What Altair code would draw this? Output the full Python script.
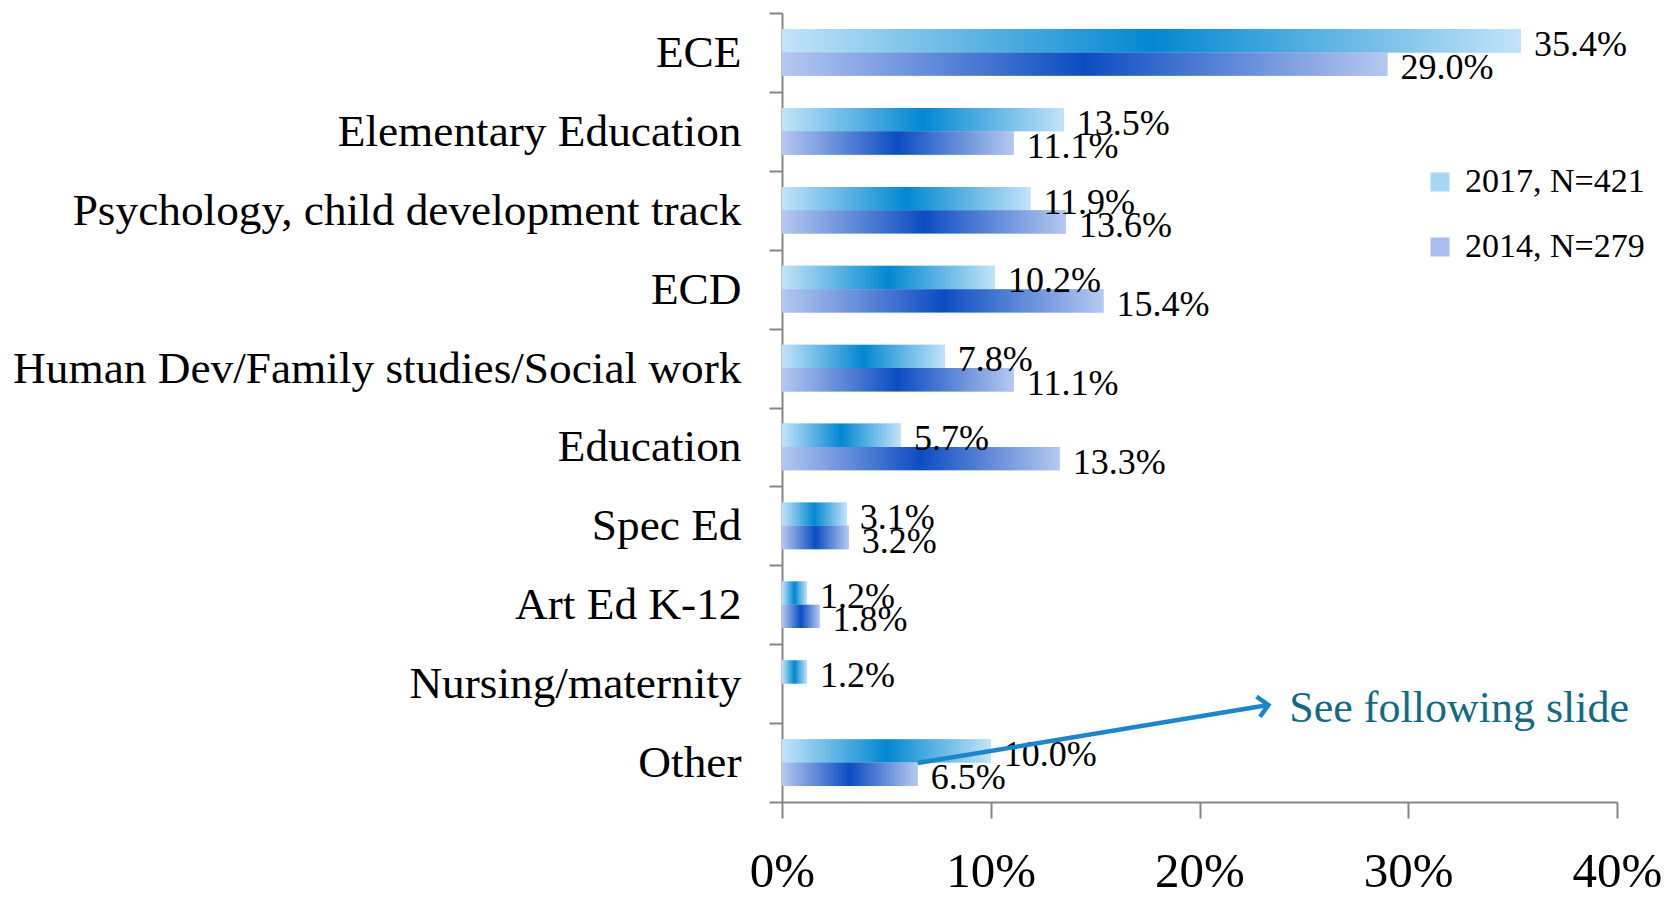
import altair as alt
import pandas as pd

categories = ["ECE", "Elementary Education", "Psychology, child development track", "ECD",
              "Human Dev/Family studies/Social work", "Education", "Spec Ed", "Art Ed K-12",
              "Nursing/maternity", "Other"]
v2017 = [35.4, 13.5, 11.9, 10.2, 7.8, 5.7, 3.1, 1.2, 1.2, 10.0]
v2014 = [29.0, 11.1, 13.6, 15.4, 11.1, 13.3, 3.2, 1.8, None, 6.5]
series = ["2017, N=421", "2014, N=279"]
x_ticks = [0, 10, 20, 30, 40]

rows = []
for c, a, b in zip(categories, v2017, v2014):
    rows.append({"category": c, "series": series[0], "value": a})
    if b is not None:
        rows.append({"category": c, "series": series[1], "value": b})
df = pd.DataFrame(rows)

FONT = "Liberation Serif"
AXIS_GREY = "#858585"

grad17 = alt.Gradient(gradient="linear", x1=0, x2=1, y1=0, y2=0,
                      stops=[alt.GradientStop(color="#c2e3f9", offset=0),
                             alt.GradientStop(color="#0288d1", offset=0.5),
                             alt.GradientStop(color="#c2e3f9", offset=1)])
grad14 = alt.Gradient(gradient="linear", x1=0, x2=1, y1=0, y2=0,
                      stops=[alt.GradientStop(color="#b6c8f0", offset=0),
                             alt.GradientStop(color="#0c4cc2", offset=0.5),
                             alt.GradientStop(color="#b6c8f0", offset=1)])

x_enc = alt.X("value:Q", scale=alt.Scale(domain=[0, 40], nice=False),
              axis=alt.Axis(values=x_ticks, labelExpr="datum.value + '%'", title=None, grid=False,
                            tickSize=16, tickWidth=2, tickColor=AXIS_GREY, domainColor=AXIS_GREY,
                            domainWidth=2, labelFont=FONT, labelFontSize=49, labelColor="black",
                            labelPadding=29, labelBaseline="top", labelFlush=False,
                            labelOverlap=False))
y_enc = alt.Y("category:N", sort=categories, scale=alt.Scale(paddingInner=0, paddingOuter=0),
              axis=alt.Axis(title=None, tickBand="extent", tickSize=13, tickWidth=2,
                            tickColor=AXIS_GREY, domainColor=AXIS_GREY, domainWidth=2,
                            labelFont=FONT, labelFontSize=45.3, labelColor="black", labelPadding=28,
                            labelLimit=900))
yoff_enc = alt.YOffset("series:N", sort=series,
                       scale=alt.Scale(domain=series, paddingInner=0, paddingOuter=0.69))

base = alt.Chart(df)

legend_bars = base.mark_bar().encode(
    x=x_enc, y=y_enc, yOffset=yoff_enc,
    color=alt.Color("series:N", sort=series,
                    scale=alt.Scale(domain=series, range=["#a9d5f5", "#a9bdee"]),
                    legend=alt.Legend(title=None, orient="none", legendX=641, legendY=152,
                                      symbolType="square", symbolSize=361, symbolStrokeWidth=0,
                                      labelFont=FONT, labelFontSize=34, labelColor="black",
                                      rowPadding=31, labelOffset=8, labelLimit=400))
)

bars17 = base.transform_filter(alt.datum.series == series[0]).mark_bar(color=grad17).encode(
    x=x_enc, y=y_enc, yOffset=yoff_enc)
bars14 = base.transform_filter(alt.datum.series == series[1]).mark_bar(color=grad14).encode(
    x=x_enc, y=y_enc, yOffset=yoff_enc)

labels = base.transform_calculate(
    label="format(datum.value, '.1f') + '%'"
).mark_text(align="left", baseline="middle", dx=13, dy=4, font=FONT, fontSize=36,
            color="black").encode(x=x_enc, y=y_enc, yOffset=yoff_enc, text="label:N")

ann = alt.Chart(pd.DataFrame({"x0": [6.5], "x1": [23.3], "xt": [24.3],
                              "txt": ["See following slide"]}))
arrow = ann.mark_rule(color="#1a86d0", strokeWidth=4.5).encode(
    x="x0:Q", x2="x1:Q", y=alt.value(750), y2=alt.value(692))
head = ann.mark_point(shape="M-1,-1L0,0L-1,1", filled=False, color="#1a86d0", strokeWidth=4.5,
                      size=420, angle=350.5, opacity=1).encode(x="x1:Q", y=alt.value(692))
ann_text = ann.mark_text(align="left", baseline="middle", font=FONT, fontSize=44,
                         color="#126b80").encode(x="xt:Q", y=alt.value(696), text="txt:N")

chart = alt.layer(legend_bars, bars17, bars14, labels, arrow, head, ann_text).properties(
    width=835, height=789,
    autosize=alt.AutoSizeParams(type="none"),
    padding={"left": 774, "top": 5, "right": 46, "bottom": 92},
    background="white",
).configure_view(stroke=None)

chart.save("out.html", embed_options={"renderer": "svg", "actions": False})
